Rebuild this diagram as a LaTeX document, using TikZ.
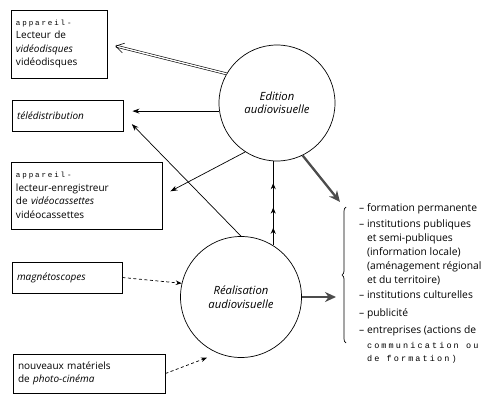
\documentclass[tikz,border=0pt]{standalone}
\usepackage{fontspec}
\setmainfont{Open Sans}
\newfontfamily\machine[LetterSpace=25]{Liberation Mono}
\usetikzlibrary{arrows.meta,decorations.markings,decorations.pathreplacing}
\begin{document}
\begin{tikzpicture}[x=1pt,y=1pt]
\tikzstyle{every node}+=[inner sep=0pt]
\tikzstyle{boite}=[draw, line width=0.9pt, inner sep=5pt, align=left, font=\fontsize{10}{13.5}\selectfont]
\tikzstyle{rond}=[draw, circle, line width=0.7pt, align=center, font=\fontsize{11.3}{13.5}\selectfont\itshape]
\tikzstyle{fleche}=[-{Stealth[length=7pt,width=5pt]}, line width=0.7pt]
\tikzstyle{grosse}=[line width=2.3pt, black!70, -{Stealth[length=11pt,width=10pt]}]
\tikzstyle{tirets}=[dashed, dash pattern=on 3pt off 2.5pt, line width=0.7pt, -{Stealth[length=6pt,width=4.5pt]}]
\tikzstyle{triple}=[line width=0.7pt, postaction={decorate}, decoration={markings,
  mark=at position 0.21 with {\arrow{Stealth[length=6pt,width=5pt]}},
  mark=at position 0.45 with {\arrow{Stealth[length=6pt,width=5pt]}},
  mark=at position 0.74 with {\arrow{Stealth[length=6pt,width=5pt]}}}]
\useasboundingbox (0,0) rectangle (486,-395);
\node [rond, minimum size=116pt] (edition) at (277,-103) {Edition\\audiovisuelle};
\node [rond, minimum size=121pt] (realisation) at (241,-297) {R\'ealisation\\audiovisuelle};
\node [boite, text width=86pt, minimum height=68pt] (lecteur) at (59,-44) {{\machine\fontsize{7.5}{13.5}\selectfont appareil-}\\Lecteur de\\\textit{vidéodisques}\\vidéodisques};
\node [boite, text width=101pt, minimum height=31pt] (teledis) at (67.5,-115.5) {\textit{télédistribution}};
\node [boite, text width=141pt, minimum height=67pt] (enregistreur) at (86.5,-195.5) {{\machine\fontsize{7.5}{13.5}\selectfont appareil-}\\lecteur-enregistreur\\de \textit{vidéocassettes}\\vidéocassettes};
\node [boite, text width=100pt, minimum height=31pt] (magneto) at (67,-277.5) {\textit{magnétoscopes}};
\node [boite, text width=142pt, minimum height=39pt] (materiel) at (89,-373.5) {nouveaux matériels\\de \textit{photo-cinéma}};
\node [anchor=north west, align=left, font=\fontsize{10.3}{14}\selectfont] (liste) at (359,-203) {-- formation permanente\\[2pt]
-- institutions publiques\\
\hphantom{-- }et semi-publiques\\
\hphantom{-- }(information locale)\\
\hphantom{-- }(aménagement régional\\
\hphantom{-- }et du territoire)\\[1pt]
-- institutions culturelles\\[4pt]
-- publicité\\[3pt]
-- entreprises (actions de\\[1pt]
\hphantom{-- }{\machine\fontsize{8.5}{13}\selectfont communication ou}\\[-1pt]
\hphantom{-- }{\machine\fontsize{8.5}{13}\selectfont de formation)}};
\coordinate (versliste) at (340,-202);
\coordinate (versdroite) at (336,-297);
\draw [double, double distance=1.4pt, line width=0.6pt, -{Straight Barb[length=8pt,width=10pt]}, shorten >=8pt] (edition.150) -- (lecteur.east);
\draw [fleche, shorten >=9pt] (edition.188) -- (edition.188 -| teledis.east);
\draw [fleche, shorten >=12pt] (realisation.north) -- (teledis.east);
\draw [fleche, shorten >=9pt] (edition.237) -- (enregistreur.east);
\draw [triple] (realisation.58) -- (realisation.58 |- edition.south);
\draw [grosse] (edition.296) -- (versliste);
\draw [grosse] (realisation.east) -- (versdroite);
\draw [tirets] (magneto.east) -- (realisation.167);
\draw [tirets, shorten >=12pt] (materiel.east) -- (realisation.248);
\draw [line width=0.7pt, decorate, decoration={brace, amplitude=4pt}] (346,-343) -- (346,-207);
\end{tikzpicture}
\end{document}
